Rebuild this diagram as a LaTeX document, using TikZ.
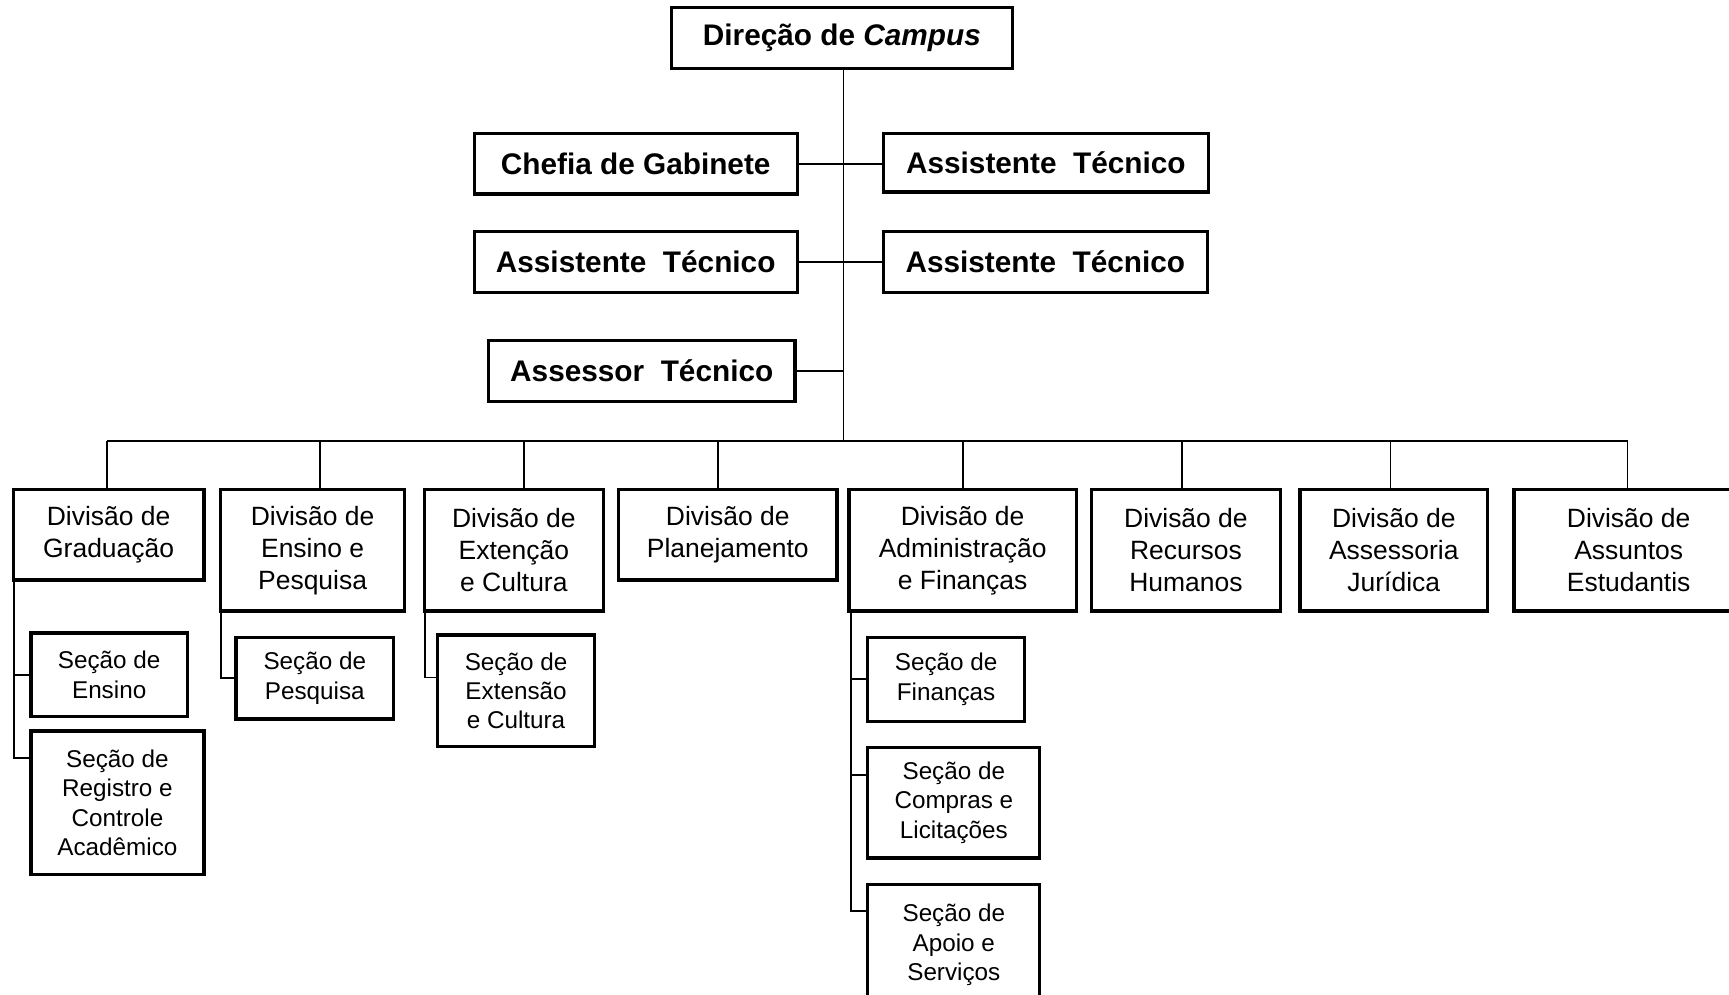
\documentclass[tikz,border=0pt]{standalone}
\usepackage{fontspec}
\setmainfont{Liberation Sans}
\begin{document}
\begin{tikzpicture}[x=1pt,y=-1pt,
  topbox/.style={draw, line width=3pt, inner sep=0pt, align=center, font=\fontsize{27}{32}\selectfont\bfseries, minimum height=55pt},
  divbox/.style={draw, line width=3pt, inner sep=0pt, align=center, font=\fontsize{24}{29}\selectfont},
  secbox/.style={draw, line width=3pt, inner sep=0pt, align=center, font=\fontsize{22}{26.7}\selectfont},
  conn/.style={line width=1.6pt}]
\useasboundingbox (0,0) rectangle (1568,902);

% top level
\node[topbox, minimum width=309pt] (dir) at (763.5,34.5) {Direção de \textit{Campus}};
\node[topbox, minimum width=293pt] (chefia) at (576.5,148.5) {Chefia de Gabinete};
\node[topbox, minimum width=295pt, minimum height=53pt] (at1) at (948.5,147.5) {Assistente\ \ Técnico};
\node[topbox, minimum width=293pt] (at2) at (576.5,237.5) {Assistente\ \ Técnico};
\node[topbox, minimum width=294pt] (at3) at (948,237.5) {Assistente\ \ Técnico};
\node[topbox, minimum width=278pt] (ass) at (582,336.5) {Assessor\ \ Técnico};

% divisions
\node[divbox, minimum width=173pt, minimum height=82pt] (grad) at (98.5,485) {Divisão de\\Graduação};
\node[divbox, minimum width=167pt, minimum height=110pt] (ens) at (283.5,499) {Divisão de\\Ensino e\\Pesquisa};
\node[divbox, minimum width=162pt, minimum height=110pt] (ext) at (466,499) {Divisão de\\Extenção\\e Cultura};
\node[divbox, minimum width=198pt, minimum height=82pt] (plan) at (660,485) {Divisão de\\Planejamento};
\node[divbox, minimum width=206pt, minimum height=110pt] (adm) at (873,499) {Divisão de\\Administração\\e Finanças};
\node[divbox, minimum width=171pt, minimum height=110pt] (rh) at (1075.5,499) {Divisão de\\Recursos\\Humanos};
\node[divbox, minimum width=170pt, minimum height=110pt] (jur) at (1264,499) {Divisão de\\Assessoria\\Jurídica};
\node[divbox, minimum width=208pt, minimum height=110pt] (est) at (1477,499) {Divisão de\\Assuntos\\Estudantis};

% sections
\node[secbox, minimum width=142pt, minimum height=76pt] (sens) at (99,612) {Seção de\\Ensino};
\node[secbox, minimum width=157pt, minimum height=130pt] (sreg) at (106.5,728) {Seção de\\Registro e\\Controle\\Acadêmico};
\node[secbox, minimum width=143pt, minimum height=74pt] (spes) at (285.5,615) {Seção de\\Pesquisa};
\node[secbox, minimum width=142pt, minimum height=101pt] (sext) at (468,626.5) {Seção de\\Extensão\\e Cultura};
\node[secbox, minimum width=142pt, minimum height=76pt] (sfin) at (858,616) {Seção de\\Finanças};
\node[secbox, minimum width=156pt, minimum height=100pt] (scom) at (865,728) {Seção de\\Compras e\\Licitações};
\node[secbox, minimum width=156pt, minimum height=110pt] (sapo) at (865,857) {Seção de\\Apoio e\\Serviços};

% upper connectors
\coordinate (hub) at (765,400);
\draw[conn] (dir.south -| hub) -- (hub);
\draw[conn] (chefia.east) -- (chefia.east -| at1.west);
\draw[conn] (at2.east) -- (at2.east -| at3.west);
\draw[conn] (ass.east) -- (ass.east -| hub);

% drops to divisions
\foreach \n/\dx in {grad/-1.5, ens/6.5, ext/9, plan/-9, adm/0, rh/-3.5, jur/-3, est/-1}{
  \coordinate (\n-d) at ([xshift=\dx pt]\n.north);
  \draw[conn] (\n-d |- hub) -- (\n-d);
}
\draw[conn] (grad-d |- hub) -- (est-d |- hub);

% section connectors
\coordinate (gt) at ([xshift=2pt]grad.south west);
\coordinate (sregc) at ([yshift=-26pt]sreg.north west);
\draw[conn] (gt) |- (sregc);
\draw[conn] (sens.west) -- (sens.west -| gt);

\coordinate (et) at ([xshift=2pt]ens.south west);
\draw[conn] (et) |- (spes.west);

\coordinate (xt) at ([xshift=2pt]ext.south west);
\coordinate (sextc) at ([yshift=-40pt]sext.north west);
\draw[conn] (xt) |- (sextc);

\coordinate (adt) at ([xshift=3pt]adm.south west);
\coordinate (scomc) at ([yshift=-26pt]scom.north west);
\coordinate (sapoc) at ([yshift=-26pt]sapo.north west);
\draw[conn] (adt) |- (sapoc);
\draw[conn] (sfin.west) -- (sfin.west -| adt);
\draw[conn] (scomc) -- (scomc -| adt);
\end{tikzpicture}
\end{document}
